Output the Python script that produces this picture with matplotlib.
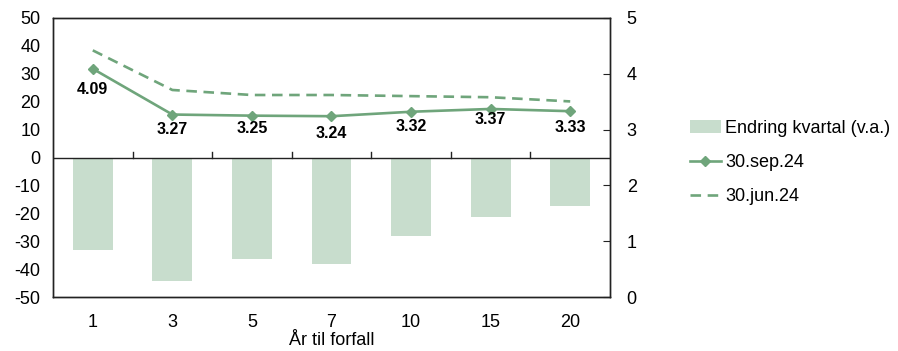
import matplotlib
matplotlib.use('Agg')
import matplotlib.pyplot as plt
from matplotlib import rcParams

rcParams['font.family'] = 'Liberation Sans'
rcParams['font.size'] = 13
rcParams['axes.unicode_minus'] = False

maturities = ['1', '3', '5', '7', '10', '15', '20']
change_bp = [-33.3, -44.2, -36.5, -38.0, -28.0, -21.2, -17.3]
sep24 = [4.09, 3.27, 3.25, 3.24, 3.32, 3.37, 3.33]
jun24 = [4.42, 3.71, 3.62, 3.62, 3.60, 3.58, 3.505]
label_offset = [-21, -15, -13, -17, -15, -11, -16]  # pixels below point

green = '#6fa57b'
bar_green = '#c8ddcd'

fig = plt.figure(figsize=(8.98, 3.51), dpi=100)
ax = fig.add_axes([53/898, 1-297/351, 557/898, 279/351])
ax2 = ax.twinx()

x = range(len(maturities))
bars = ax.bar(x, change_bp, width=0.5, color=bar_green, zorder=1,
              label='Endring kvartal (v.a.)')
ax.set_ylim(-50, 50)
ax.set_yticks(range(-50, 51, 10))
ax.set_xlim(-0.5, len(maturities)-0.5)
ax.set_xticks(list(x))
ax.set_xticklabels(maturities)
ax.tick_params(axis='x', length=0, pad=12)
ax.tick_params(axis='y', length=0, pad=9)
ax.axhline(0, color='#222222', lw=1, zorder=2)
# small ticks on zero line between categories
for b in [i + 0.5 for i in range(len(maturities)-1)]:
    ax.plot([b, b], [0, 2], color='#222222', lw=1, zorder=2)
ax.set_xlabel('År til forfall', labelpad=1)

l1, = ax2.plot(x, sep24, color=green, lw=1.9, marker='D', ms=5.5,
               label='30.sep.24', zorder=3)
l2, = ax2.plot(x, jun24, color=green, lw=1.9, ls=(0, (4, 2.5)),
               label='30.jun.24', zorder=3)
ax2.set_ylim(0, 5)
ax2.set_yticks(range(0, 6))
ax2.tick_params(axis='y', direction='in', length=5, pad=12, color='#222222')

for i, v in enumerate(sep24):
    ax2.annotate('%.2f' % v, (i, v), xytext=(0, label_offset[i]),
                 textcoords='offset pixels', ha='center', va='center',
                 fontsize=11.5, fontweight='bold')

for a in (ax, ax2):
    for s in a.spines.values():
        s.set_color('#222222')
        s.set_linewidth(1)

fig.legend(handles=[bars, l1, l2], loc='upper left',
           bbox_to_anchor=(690/898, 1-120/351), frameon=False,
           borderaxespad=0, borderpad=0,
           handlelength=1.7, handletextpad=0.25, labelspacing=0.95,
           fontsize=13)

fig.savefig('out.png', dpi=100)
